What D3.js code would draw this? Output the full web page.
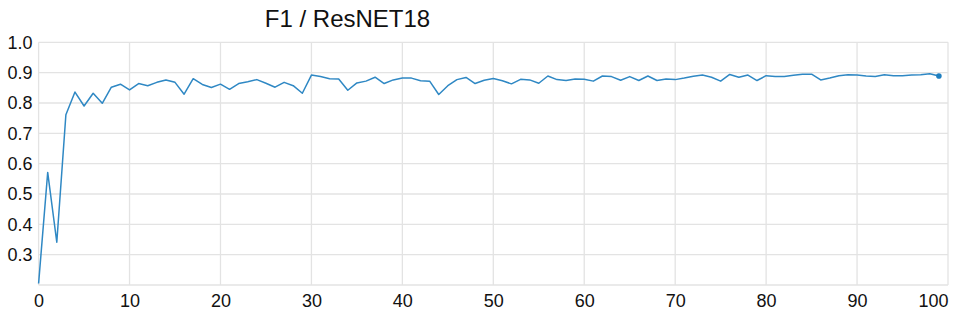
<!DOCTYPE html>
<meta charset="utf-8">
<script src="https://d3js.org/d3.v7.min.js"></script>
<style>
  body { margin: 0; background: #fff; }
  text { font-family: "Liberation Sans", Arial, sans-serif; }
</style>
<div class="vis"></div>
<script>
  let width = 959
  let height = 319
  let margin = { top: 42.3, right: 11, bottom: 34, left: 38.6 }

  let title = 'F1 / ResNET18'
  let xTicks = [0, 10, 20, 30, 40, 50, 60, 70, 80, 90, 100]
  let yTicks = [0.3, 0.4, 0.5, 0.6, 0.7, 0.8, 0.9, 1.0]
  // f1 score per epoch (0..99)
  let f1 = [
    0.205, 0.571, 0.341, 0.761, 0.836, 0.790, 0.832, 0.799, 0.852, 0.862,
    0.843, 0.864, 0.857, 0.868, 0.876, 0.868, 0.829, 0.880, 0.861, 0.851,
    0.862, 0.845, 0.864, 0.870, 0.877, 0.865, 0.852, 0.868, 0.857, 0.832,
    0.892, 0.887, 0.880, 0.879, 0.842, 0.866, 0.872, 0.885, 0.864, 0.876,
    0.882, 0.882, 0.873, 0.872, 0.828, 0.857, 0.877, 0.884, 0.864, 0.875,
    0.881, 0.873, 0.863, 0.878, 0.876, 0.865, 0.889, 0.877, 0.874, 0.879,
    0.878, 0.872, 0.889, 0.887, 0.875, 0.887, 0.874, 0.889, 0.874, 0.879,
    0.877, 0.882, 0.888, 0.892, 0.885, 0.872, 0.894, 0.885, 0.892, 0.874,
    0.890, 0.887, 0.887, 0.891, 0.895, 0.895, 0.876, 0.882, 0.890, 0.893,
    0.892, 0.889, 0.887, 0.893, 0.890, 0.890, 0.892, 0.893, 0.896, 0.889
  ]

  let svg = d3.select('.vis').append('svg')
    .attr('width', width).attr('height', height)

  let x = d3.scaleLinear().domain([0, 100]).range([margin.left, width - margin.right])
  let y = d3.scaleLinear().domain([0.2, 1.0]).range([height - margin.bottom, margin.top])

  // grid
  svg.append('g')
    .selectAll('line')
    .data(xTicks)
    .join('line')
      .attr('x1', d => x(d)).attr('x2', d => x(d))
      .attr('y1', y(1.0)).attr('y2', y(0.2))
      .attr('stroke', '#e3e3e3').attr('stroke-width', 1.3)

  svg.append('g')
    .selectAll('line')
    .data([0.2].concat(yTicks))
    .join('line')
      .attr('x1', x(0)).attr('x2', x(100))
      .attr('y1', d => y(d)).attr('y2', d => y(d))
      .attr('stroke', '#e3e3e3').attr('stroke-width', 1.3)

  // axes (labels only)
  let xAxis = (g) =>
    g.attr('transform', `translate(0,${y(0.2)})`)
      .call(d3.axisBottom(x).tickValues(xTicks).tickSize(0).tickPadding(9))
      .call(g => g.select('.domain').remove())
      .call(g => g.selectAll('text').attr('font-size', 18).attr('fill', '#111')
        .attr('font-family', '"Liberation Sans", Arial, sans-serif'))
      // last label is pulled inside the plot, like the original
      .call(g => g.select('.tick:last-of-type text').attr('text-anchor', 'end'))

  let yAxis = (g) =>
    g.attr('transform', `translate(${x(0) - 6},0)`)
      .call(d3.axisLeft(y).tickValues(yTicks).tickFormat(d3.format('.1f')).tickSize(0).tickPadding(0))
      .call(g => g.select('.domain').remove())
      .call(g => g.selectAll('text').attr('font-size', 18).attr('fill', '#111')
        .attr('font-family', '"Liberation Sans", Arial, sans-serif'))

  svg.append('g').call(xAxis)
  svg.append('g').call(yAxis)

  // line
  let line = d3.line().x((d, i) => x(i)).y(d => y(d))

  svg.append('path')
    .datum(f1)
    .attr('d', line)
    .attr('fill', 'none')
    .attr('stroke', '#2f88c4')
    .attr('stroke-width', 1.5)
    .attr('stroke-linejoin', 'round')

  svg.append('circle')
    .attr('cx', x(f1.length - 1))
    .attr('cy', y(f1[f1.length - 1]))
    .attr('r', 2.8)
    .attr('fill', '#1f7fc0')

  svg.append('text')
    .attr('x', 347.5)
    .attr('y', 26.5)
    .attr('text-anchor', 'middle')
    .attr('font-size', 24)
    .attr('fill', '#111')
    .text(title)
</script>
